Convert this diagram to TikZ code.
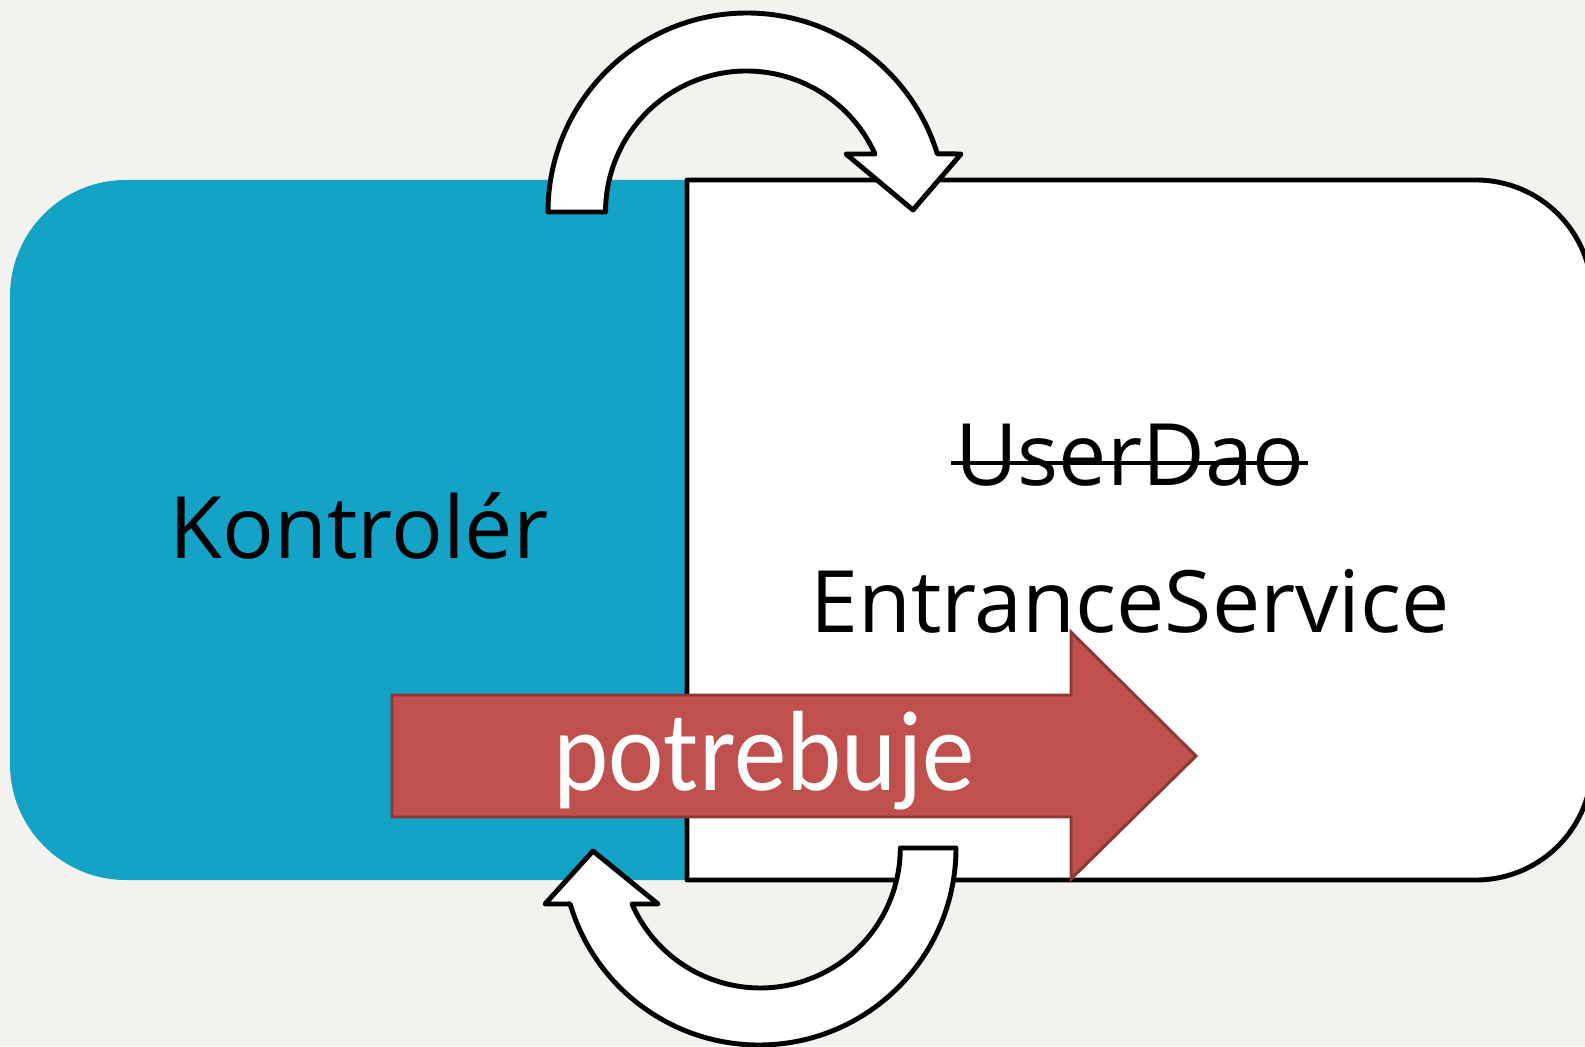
\documentclass[tikz,border=0pt]{standalone}
\usepackage{fontspec}
\setmainfont{Open Sans}
\newfontfamily\calib{Carlito}
\usetikzlibrary{calc,positioning}

\definecolor{paper}{HTML}{F3F2EE}
\definecolor{ctrlblue}{HTML}{14A3C7}
\definecolor{needred}{HTML}{C0504D}
\definecolor{neededge}{HTML}{8C3836}

\begin{document}
\begin{tikzpicture}[x=0.02cm, y=0.02cm]
        \tikzstyle{loop} = [draw=black, fill=white, line width=2.8pt, line join=round]
        \tikzstyle{label} = [inner sep=0pt, anchor=base, font=\fontsize{49}{56}\selectfont]

        \fill [paper] (0,0) rectangle (1585,1046);
        \useasboundingbox (0,0) rectangle (1585,1046);

        % the two boxes
        \fill [ctrlblue, rounded corners=2.32cm] (10,166) rectangle (800,866);
        \draw [fill=white, line width=2.8pt, line join=round] (687,166) -- (687,866) -- (1476,866)
            arc [start angle=90, end angle=0, radius=116] -- (1592,282)
            arc [start angle=0, end angle=-90, radius=116] -- cycle;

        \node [label] (ctrl) at (359,488) {Kontrolér};
        \node [label] (dao) at (1130,561) {UserDao};
        \node [label] (service) at (1130,414) {EntranceService};
        \coordinate (strike) at (0,583);
        \draw [line width=2.2pt] ([xshift=-0.08cm]dao.west |- strike) -- ([xshift=0.06cm]dao.east |- strike);

        % curved arrows
        \draw [loop] (548,834) arc [start angle=180, end angle=17, radius=199]
            -- (961,892) -- (913,836) -- (846,892) -- (875,892)
            arc [start angle=24.3, end angle=180, radius=141] -- cycle;
        \draw [loop] (956,198) arc [start angle=0, end angle=-163.5, radius=197]
            -- (545,142) -- (593,195) -- (658,142) -- (632,142)
            arc [start angle=-156.4, end angle=0, radius=140] -- cycle;

        % needs arrow
        \draw [fill=needred, draw=neededge, line width=1.7pt, line join=miter]
            (392,229) -- (392,351) -- (1071,351) -- (1071,414) -- (1196,290)
            -- (1071,167) -- (1071,229) -- cycle;
        \node [label, text=white, font=\calib\fontsize{65}{72}\selectfont] (need) at (764,256)
            {\scalebox{0.92}[1]{potrebuje}};
    \end{tikzpicture}
\end{document}
